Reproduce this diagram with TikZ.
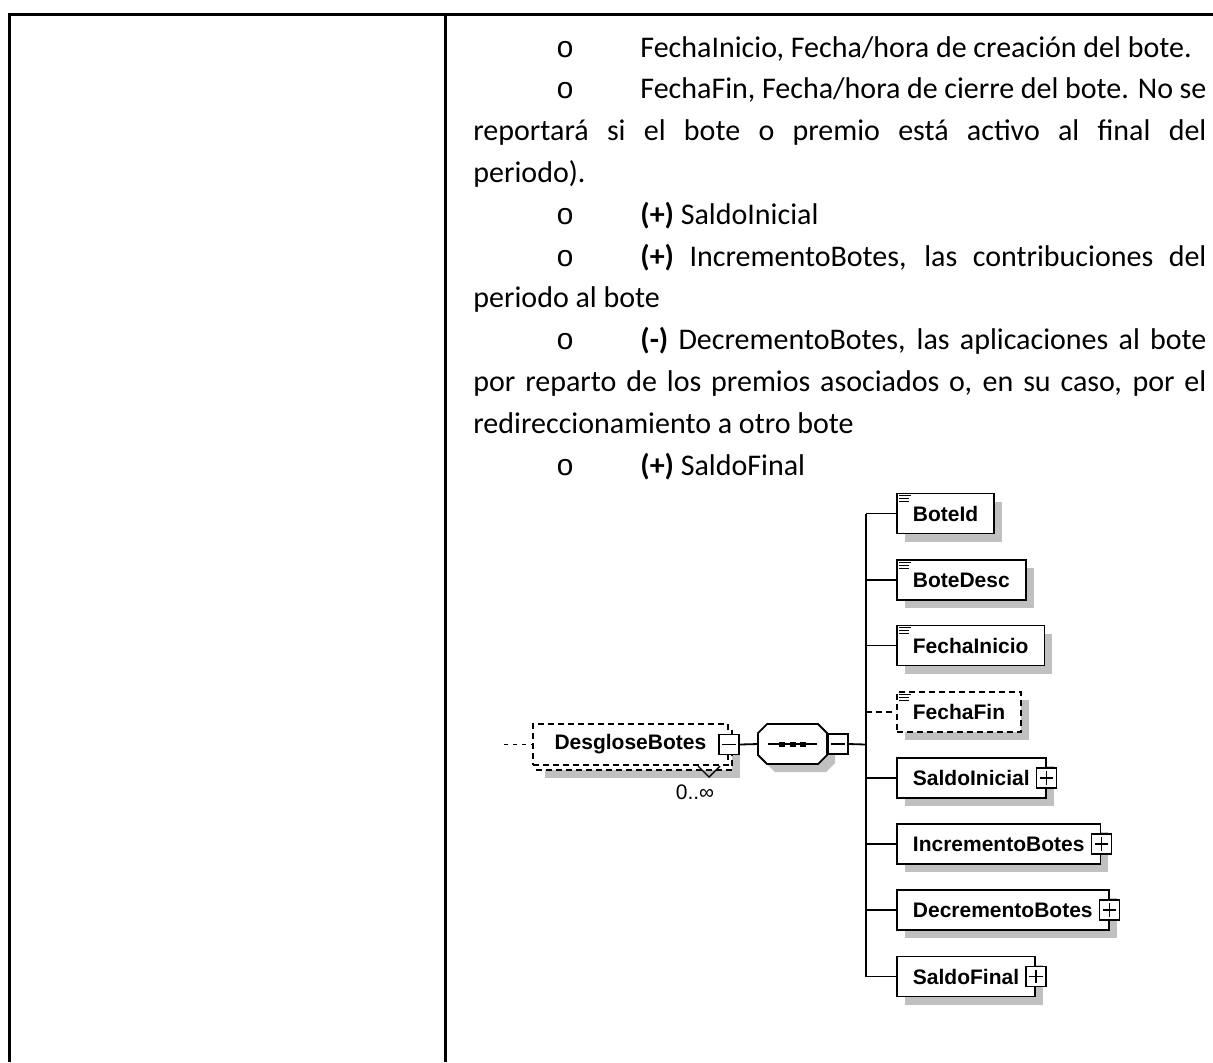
\documentclass[tikz,border=0pt]{standalone}
\usepackage{fontspec}
\setmainfont{Carlito}
\newfontfamily\xsdfont{Liberation Sans}
\newfontfamily\bulfont{Liberation Mono}
\usetikzlibrary{shadows}
\definecolor{shgray}{RGB}{192,192,192}
\begin{document}
\begin{tikzpicture}[x=0.5pt,y=-0.5pt,
  rule/.style={line width=1.5pt},
  para/.style={anchor=base west, inner sep=0pt, font=\fontsize{15}{17}\selectfont},
  bul/.style={anchor=base, inner sep=0pt, font=\bulfont\fontsize{15}{17}\selectfont},
  elem/.style={draw, line width=0.9pt, fill=white, anchor=west, minimum height=20pt,
    inner xsep=8pt, inner ysep=0pt, font=\xsdfont\bfseries\fontsize{10.5}{12}\selectfont,
    drop shadow={shadow xshift=4pt, shadow yshift=-4pt, fill=shgray, opacity=1}},
  optelem/.style={elem, dash pattern=on 3pt off 2pt},
  dashpat/.style={line width=0.9pt, dash pattern=on 3pt off 2pt},
  pmbox/.style={draw, line width=0.8pt, fill=white, minimum size=10pt, inner sep=0pt},
  conn/.style={line width=0.9pt},
  icon/.style={line width=0.6pt},
]
\useasboundingbox (0,0) rectangle (1213,1062);

% table frame
\draw[rule] (8,14) -- (1213,14);
\draw[rule] (9.5,13.3) -- (9.5,1062);
\draw[rule] (445.5,13.3) -- (445.5,1062);

% paragraph text
\node[bul] (b1) at (565,57) {o};
\node[para] (t1) at (640,57) {FechaInicio, Fecha/hora de creación del bote.};
\node[bul] (b2) at (565,98.8) {o};
\node[para] (t2) at (640,98.8) {\makebox[283pt][s]{FechaFin, Fecha/hora de cierre del bote. No se}};
\node[para] (t3) at (473,140.6) {\makebox[366.5pt][s]{reportará si el bote o premio está activo al final del}};
\node[para] (t4) at (473,182.4) {periodo).};
\node[bul] (b5) at (565,224.2) {o};
\node[para] (t5) at (640,224.2) {\textbf{(+)} SaldoInicial};
\node[bul] (b6) at (565,266) {o};
\node[para] (t6) at (640,266) {\makebox[283pt][s]{\textbf{(+)} IncrementoBotes, las contribuciones del}};
\node[para] (t7) at (473,307.8) {periodo al bote};
\node[bul] (b8) at (565,349.6) {o};
\node[para] (t8) at (640,349.6) {\makebox[283pt][s]{\textbf{(-)} DecrementoBotes, las aplicaciones al bote}};
\node[para] (t9) at (473,391.4) {\makebox[366.5pt][s]{por reparto de los premios asociados o, en su caso, por el}};
\node[para] (t10) at (473,433.2) {redireccionamiento a otro bote};
\node[bul] (b11) at (565,475) {o};
\node[para] (t11) at (640,475) {\textbf{(+)} SaldoFinal};

% ---------- DesgloseBotes (repeated, optional) ----------
\fill[shgray] (545,737) rectangle (740,778);
\draw[dashpat, fill=white] (537,729) rectangle (732,770);
\node[draw, dashpat, fill=white, anchor=west, minimum width=97.5pt, minimum height=20.5pt,
  inner sep=0pt, font=\xsdfont\bfseries\fontsize{10.5}{12}\selectfont] (desg) at (532,744.5) {DesgloseBotes\hspace{1.5pt}};
\node[pmbox] (desgm) at (desg.east) {};
\draw[line width=0.8pt] ([xshift=2pt]desgm.west) -- ([xshift=-2pt]desgm.east);
\draw[line width=0.7pt] (698,766) -- (709,777) -- (720,766);
\node[inner sep=0pt, font=\xsdfont\fontsize{10.5}{12}\selectfont] (card) at (695,792) {0..∞};
\coordinate (in) at (504,744.5);
\draw[line width=0.8pt, dash pattern=on 2pt off 2.5pt] (in) -- (desg.west);

% ---------- sequence compositor ----------
\fill[shgray] (775,732) -- (826,732) -- (835,741) -- (835,763) -- (826,772) -- (775,772) -- (766,763) -- (766,741) -- cycle;
\draw[conn, fill=white] (767,724) -- (818,724) -- (827,733) -- (827,755) -- (818,764) -- (767,764) -- (758,755) -- (758,733) -- cycle;
\node[minimum width=34.5pt, minimum height=20pt, inner sep=0pt] (seq) at (792.5,744) {};
\draw[line width=0.9pt] (768,744) -- (817,744);
\fill (779,741.5) rectangle (785,746.5);
\fill (789.5,741.5) rectangle (795.5,746.5);
\fill (800,741.5) rectangle (806,746.5);
\node[pmbox, anchor=west] (seqm) at (seq.east) {};
\draw[line width=0.8pt] ([xshift=2pt]seqm.west) -- ([xshift=-2pt]seqm.east);
\draw[conn] (desgm.east) -- (seq.west);
\coordinate (busx) at (866,744.5);
\draw[conn] (seqm.east) -- (busx);

% ---------- child elements ----------
\node[elem] (boteid) at (896,513.5) {BoteId};
\node[elem] (botedesc) at (896,580) {BoteDesc};
\node[elem] (fini) at (896,645.5) {FechaInicio};
\node[optelem] (ffin) at (896,712) {FechaFin};
\node[elem] (sini) at (896,778) {SaldoInicial\hspace{4.5pt}};
\node[elem] (incr) at (896,844) {IncrementoBotes\hspace{4pt}};
\node[elem] (decr) at (896,910) {DecrementoBotes\hspace{4pt}};
\node[elem] (sfin) at (896,976.5) {SaldoFinal\hspace{4.5pt}};

% simple-type icons
\foreach \n in {boteid,botedesc,fini,ffin}{
  \draw[icon] ([xshift=1.5pt,yshift=-1.5pt]\n.north west) -- ++(6pt,0);
  \draw[icon] ([xshift=1.5pt,yshift=-3pt]\n.north west) -- ++(5pt,0);
  \draw[icon] ([xshift=1.5pt,yshift=-4.5pt]\n.north west) -- ++(5pt,0);
}

% plus boxes
\foreach \n in {sini,incr,decr,sfin}{
  \node[pmbox] (\n p) at (\n.east) {};
  \draw[line width=0.8pt] ([xshift=2pt]\n p.west) -- ([xshift=-2pt]\n p.east);
  \draw[line width=0.8pt] ([yshift=-2pt]\n p.north) -- ([yshift=2pt]\n p.south);
}

% bus and branches
\draw[conn] (boteid.west -| busx) -- (sfin.west -| busx);
\foreach \n in {boteid,botedesc,fini,sini,incr,decr,sfin}{
  \draw[conn] (\n.west -| busx) -- (\n.west);
}
\draw[dashpat] (ffin.west -| busx) -- (ffin.west);
\end{tikzpicture}
\end{document}
